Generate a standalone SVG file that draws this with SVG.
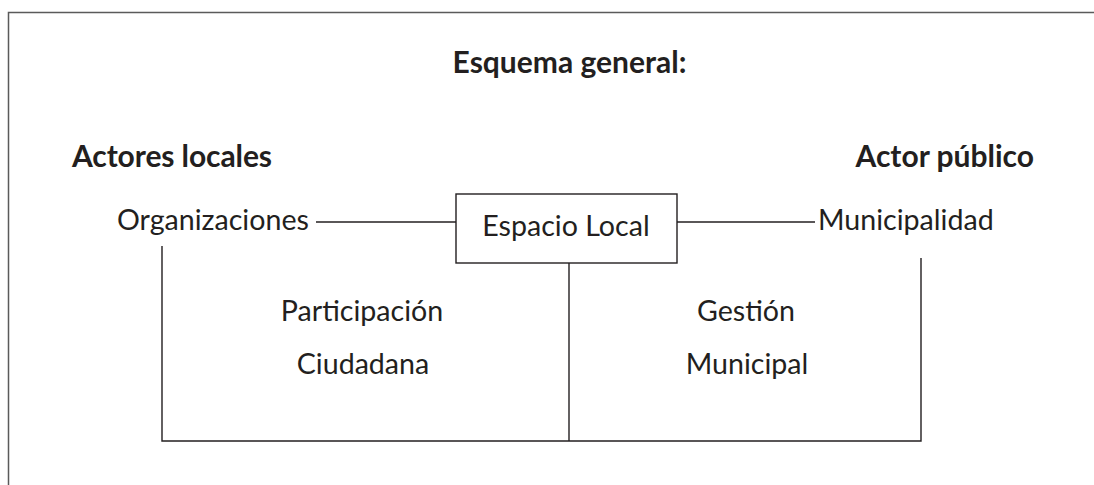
<svg xmlns="http://www.w3.org/2000/svg" width="1094" height="485" viewBox="0 0 1094 485">
<style>
.t{font-family:"Lato","Open Sans",sans-serif;font-size:28.6px;fill:#231f20}
.b{font-family:"Lato","Open Sans",sans-serif;font-size:30px;font-weight:bold;fill:#231f20}
.ln{stroke:#231f20;stroke-width:1.4;fill:none}
.frame{stroke:#5a5a5a;stroke-width:1.5;fill:none}
</style>
<rect width="1094" height="485" fill="#fff"/>
<path class="frame" d="M8.5,485 V12.5 H1094"/>
<text class="b" x="569.5" y="73" text-anchor="middle">Esquema general:</text>
<g id="actores-locales"><text class="b" x="72" y="167" textLength="200" lengthAdjust="spacing">Actores locales</text></g>
<g id="actor-publico"><text class="b" x="1034" y="167" text-anchor="end">Actor público</text></g>
<g id="organizaciones"><text class="t" x="117" y="230">Organizaciones</text></g>
<g id="espacio-local"><rect class="ln" x="456" y="194" width="221" height="69"/><text class="t" x="566" y="236" text-anchor="middle">Espacio Local</text></g>
<g id="municipalidad"><text class="t" x="818" y="230">Municipalidad</text></g>
<g id="participacion"><text class="t" x="362" y="321" text-anchor="middle">Participación</text><text class="t" x="363" y="374" text-anchor="middle">Ciudadana</text></g>
<g id="gestion"><text class="t" x="746" y="321" text-anchor="middle">Gestión</text><text class="t" x="747" y="374" text-anchor="middle">Municipal</text></g>
<g id="connectors">
<path class="ln" d="M316,222 H456"/>
<path class="ln" d="M677,222 H815"/>
<path class="ln" d="M162,246 V441 H921 V258"/>
<path class="ln" d="M569,263 V441"/>
</g>
</svg>
